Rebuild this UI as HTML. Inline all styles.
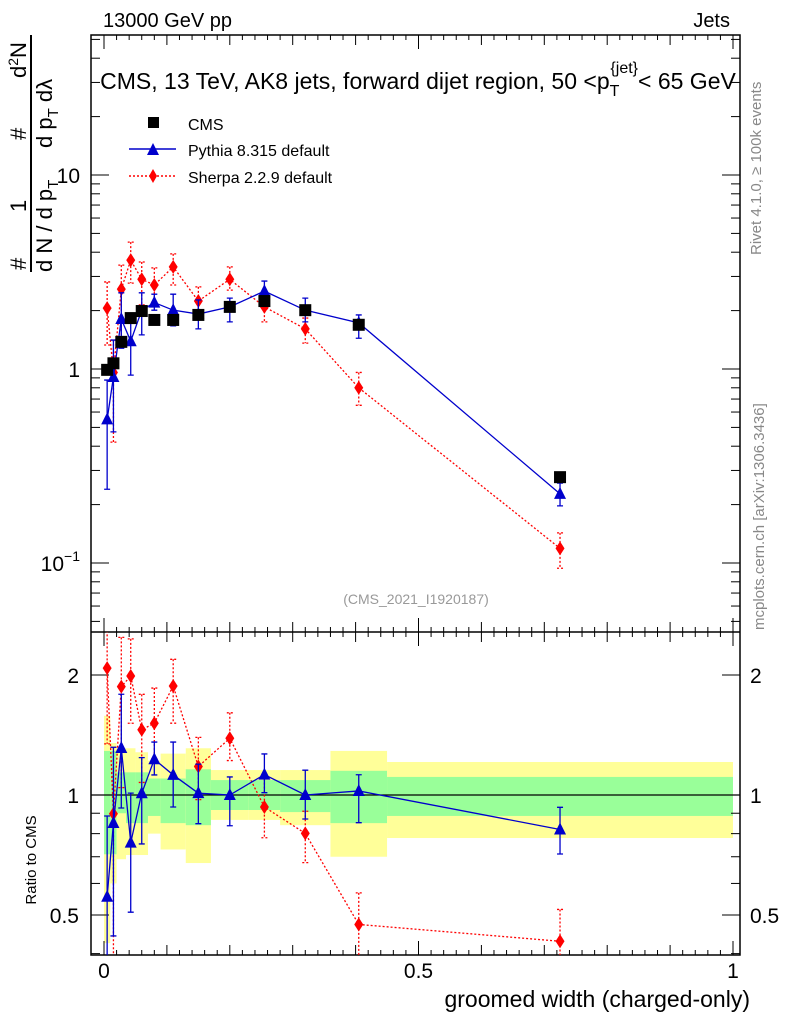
<!DOCTYPE html>
<html><head><meta charset="utf-8"><style>
body{margin:0;background:#fff}
svg{display:block;font-family:"Liberation Sans",sans-serif}
</style></head><body>
<svg id="c" width="786" height="1024" viewBox="0 0 786 1024" xmlns="http://www.w3.org/2000/svg">
<defs><clipPath id="rc"><rect x="91" y="632" width="649" height="323"/></clipPath><clipPath id="mc"><rect x="91" y="35" width="649" height="597"/></clipPath></defs>
<text x="103" y="27" font-size="20">13000 GeV pp</text>
<text x="730" y="27" font-size="20" text-anchor="end">Jets</text>
<text x="418" y="89" font-size="23" text-anchor="middle">CMS, 13 TeV, AK8 jets, forward dijet region, 50 &lt;p<tspan font-size="16" dy="7">T</tspan><tspan font-size="16" dx="-9" dy="-23">{jet}</tspan><tspan dy="16">&lt; 65 GeV</tspan></text>
<text x="416" y="604" font-size="14" fill="#999" text-anchor="middle">(CMS_2021_I1920187)</text>
<text transform="translate(761,255) rotate(-90)" font-size="15" fill="#888">Rivet 4.1.0, ≥ 100k events</text>
<text transform="translate(764,630) rotate(-90)" font-size="15" fill="#888">mcplots.cern.ch [arXiv:1306.3436]</text>
<g font-size="22">
<text transform="translate(26,270) rotate(-90)">#</text>
<text transform="translate(26,212) rotate(-90)">1</text>
<text transform="translate(26,140) rotate(-90)">#</text>
<text transform="translate(26,78) rotate(-90)">d<tspan font-size="14" dy="-8">2</tspan><tspan dy="8">N</tspan></text>
<line x1="31" y1="272" x2="31" y2="35" stroke="#000" stroke-width="2"/>
<text transform="translate(52,272) rotate(-90)">d N / d p<tspan font-size="15" dy="6">T</tspan></text>
<text transform="translate(52,148) rotate(-90)">d p<tspan font-size="15" dy="6">T</tspan><tspan dy="-6"> dλ</tspan></text>
</g>
<text transform="translate(36,860) rotate(-90)" font-size="15" text-anchor="middle">Ratio to CMS</text>
<text x="750" y="1007" font-size="23" text-anchor="end">groomed width (charged-only)</text>
<g id="bands"></g><g id="axes"></g><g id="series"></g>
<g font-size="16">
<rect x="148" y="117" width="11" height="11" fill="#000"/>
<text x="188" y="130">CMS</text>
<line x1="129" y1="149" x2="176" y2="149" stroke="#00c" stroke-width="1.5"/>
<path d="M147,155 L153,143 L159,155Z" fill="#00c"/>
<text x="188" y="156">Pythia 8.315 default</text>
<line x1="129" y1="176" x2="176" y2="176" stroke="#f00" stroke-width="1.5" stroke-dasharray="2,2"/>
<path d="M153,169 L157,176 L153,183 L149,176Z" fill="#f00"/>
<text x="188" y="183">Sherpa 2.2.9 default</text>
</g>
</svg>
<script>
const xCenters=[0.005,0.015,0.0275,0.0425,0.06,0.08,0.11,0.15,0.20,0.255,0.32,0.405,0.725];
const binEdges=[0,0.01,0.02,0.035,0.05,0.07,0.09,0.13,0.17,0.23,0.28,0.36,0.45,1.0];
const cmsVals=[0.99,1.07,1.38,1.83,1.99,1.79,1.79,1.90,2.09,2.24,2.01,1.69,0.277];
const pythiaVals=[0.55,0.91,1.81,1.39,2.01,2.2,2.01,1.92,2.09,2.52,2.01,1.73,0.227];
const pythiaHi=[0.877,1.41,2.47,1.85,2.47,2.43,2.43,2.27,2.32,2.84,2.32,1.90,0.258];
const pythiaLo=[0.24,0.474,1.28,0.93,1.50,2.01,1.67,1.61,1.75,2.27,1.75,1.44,0.197];
const sherpaVals=[2.06,0.96,2.58,3.64,2.9,2.71,3.36,2.24,2.9,2.09,1.61,0.80,0.119];
const sherpaHi=[2.81,1.41,3.43,4.51,3.56,3.32,3.92,2.65,3.36,2.52,1.83,0.96,0.143];
const sherpaLo=[1.33,0.42,1.44,2.77,2.14,2.21,2.71,1.85,2.55,1.75,1.36,0.65,0.094];
const greenHi=[1.29,1.29,1.14,1.14,1.14,1.10,1.10,1.16,1.09,1.09,1.09,1.15,1.11];
const greenLo=[0.71,0.71,0.90,0.85,0.85,0.886,0.85,0.84,0.917,0.917,0.906,0.85,0.886];
const yellowHi=[1.58,1.35,1.31,1.31,1.28,1.22,1.27,1.31,1.155,1.155,1.155,1.29,1.21];
const yellowLo=[0.425,0.60,0.69,0.707,0.707,0.80,0.73,0.675,0.866,0.866,0.84,0.70,0.78];

const X=v=>104+v*629;
const Ym=v=>369-194*Math.log10(v);
const Yr=v=>795-398.6*Math.log10(v);
const NS='http://www.w3.org/2000/svg';
function mk(par,tag,at){const e=document.createElementNS(NS,tag);for(const k in at)e.setAttribute(k,at[k]);(typeof par==='string'?document.getElementById(par):par).appendChild(e);return e;}

for(let i=0;i<xCenters.length;i++){
 const x0=X(binEdges[i]),x1=X(binEdges[i+1]);
 const y=mk('bands','rect',{x:x0,y:Yr(yellowHi[i]),width:x1-x0,height:Yr(yellowLo[i])-Yr(yellowHi[i]),fill:'#ffff99'});
 
 
 const g=mk('bands','rect',{x:x0,y:Yr(greenHi[i]),width:x1-x0,height:Yr(greenLo[i])-Yr(greenHi[i]),fill:'#99ff99'});
 
 
}
const L=91,R=740,T=35,M=632,B=955;
const fr=mk('axes','path',{d:`M${L},${T}H${R}V${B}H${L}Z M${L},${M}H${R}`,fill:'none',stroke:'#000','stroke-width':1.5});


mk('axes','line',{x1:L,x2:R,y1:Yr(1),y2:Yr(1),stroke:'#000','stroke-width':1.2});
for(let k=0;k<=50;k++){const v=k*0.02;const x=X(v);const maj=k%25==0;const mid=k%5==0;const len=maj?14:(mid?10:5);
 for(const [yb,dir] of [[M,-1],[B,-1],[T,1],[M,1]]){mk('axes','line',{x1:x,x2:x,y1:yb,y2:yb+dir*len,stroke:'#000'});}
}
for(const v of [0,0.5,1]){const t=mk('axes','text',{x:X(v),y:978,'font-size':21,'text-anchor':'middle'});t.textContent=v===0?'0':(v===1?'1':'0.5');
 
 }
for(let d=-2;d<=1;d++)for(let m=1;m<=9;m++){const v=m*Math.pow(10,d);const y=Ym(v);if(y<T||y>M)continue;const len=m==1?18:9;
 mk('axes','line',{x1:L,x2:L+len,y1:y,y2:y,stroke:'#000'});mk('axes','line',{x1:R,x2:R-len,y1:y,y2:y,stroke:'#000'});}
for(const [s,v] of [['10',10],['1',1]]){const t=mk('axes','text',{x:80,y:Ym(v)+8,'font-size':21,'text-anchor':'end'});t.textContent=s;
 
 }
{const t=mk('axes','text',{x:80,y:Ym(0.1)+8,'font-size':21,'text-anchor':'end'});t.innerHTML='10<tspan font-size="14" dy="-10">−1</tspan>';
 
 }
const rt=[0.4,0.5,0.6,0.7,0.8,0.9,1,2];
for(const v of rt){const y=Yr(v);const len=(v==0.5||v==1||v==2)?18:9;
 mk('axes','line',{x1:L,x2:L+len,y1:y,y2:y,stroke:'#000'});mk('axes','line',{x1:R,x2:R-len,y1:y,y2:y,stroke:'#000'});}
for(const [s,v] of [['2',2],['1',1],['0.5',0.5]]){
 for(const [xx,a] of [[79,'end'],[750,'start']]){const t=mk('axes','text',{x:xx,y:Yr(v)+8,'font-size':21,'text-anchor':a});t.textContent=s;
 
 }}

function series(vals,hi,lo,col,dash,shape,Yf,ref,name,clip){
 const grp=mk('series','g',{'clip-path':`url(#${clip})`});
 const f=(a,i)=>ref?a[i]/ref[i]:a[i];
 const pts=vals.map((v,i)=>`${X(xCenters[i])},${Yf(f(vals,i))}`).join(' ');
 const pl=mk(grp,'polyline',{points:pts,fill:'none',stroke:col,'stroke-width':1.3,'stroke-dasharray':dash||'none'});
 
 
 vals.forEach((v,i)=>{const x=X(xCenters[i]);const y=Yf(f(vals,i));
  const yh=Yf(f(hi,i)),yl=Yf(f(lo,i));
  mk(grp,'path',{d:`M${x},${yh}V${yl}M${x-3},${yh}h6M${x-3},${yl}h6`,stroke:col,'stroke-width':1.3,'stroke-dasharray':dash||'none',fill:'none'});
  let p;
  if(shape=='tri')p=mk(grp,'path',{d:`M${x-6},${y+5}L${x},${y-7}L${x+6},${y+5}Z`,fill:col});
  else p=mk(grp,'path',{d:`M${x},${y-7}L${x+4.5},${y}L${x},${y+7}L${x-4.5},${y}Z`,fill:col});
  
  
 });
}
series(sherpaVals,sherpaHi,sherpaLo,'#f00','2,2','dia',Ym,null,'sherpa','mc');
series(pythiaVals,pythiaHi,pythiaLo,'#00c',null,'tri',Ym,null,'pythia','mc');
cmsVals.forEach((v,i)=>{const r=mk('series','rect',{x:X(xCenters[i])-6,y:Ym(v)-6,width:12,height:12,fill:'#000'});
 
 });
series(sherpaVals,sherpaHi,sherpaLo,'#f00','2,2','dia',Yr,cmsVals,'sherpa-ratio','rc');
series(pythiaVals,pythiaHi,pythiaLo,'#00c',null,'tri',Yr,cmsVals,'pythia-ratio','rc');
</script>
</body></html>
